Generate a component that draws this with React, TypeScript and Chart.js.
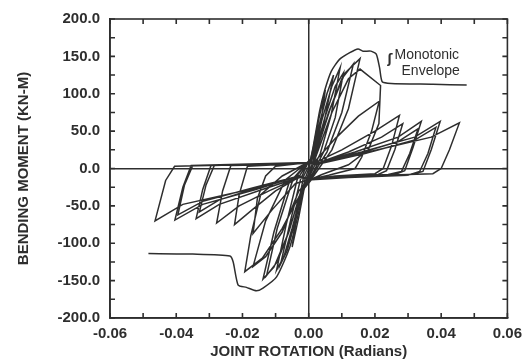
import React, { useEffect, useRef } from "react";
import { Chart, registerables } from "chart.js";

Chart.register(...registerables);

// ---------- data ----------
const xTickValues = [-0.06, -0.05, -0.04, -0.03, -0.02, -0.01, 0, 0.01, 0.02, 0.03, 0.04, 0.05, 0.06];
const xTickLabels = ["-0.06", "", "-0.04", "", "-0.02", "", "0.00", "", "0.02", "", "0.04", "", "0.06"];
const yTickValues = [-200, -175, -150, -125, -100, -75, -50, -25, 0, 25, 50, 75, 100, 125, 150, 175, 200];
const yTickLabels = ["-200.0", "", "-150.0", "", "-100.0", "", "-50.0", "", "0.0", "", "50.0", "", "100.0", "", "150.0", "", "200.0"];

type P = [number, number];

const cycle01: P[] = [[0, 0], [0.0015, 30], [0.003, 65], [0.005, 105], [0.0035, 55], [0.0015, 12], [0, -5], [-0.0015, -30], [-0.003, -65], [-0.005, -105], [-0.0035, -55], [-0.0015, -10], [0, 3]];
const cycle02: P[] = [[0.001, 12], [0.003, 55], [0.0055, 100], [0.0075, 125], [0.005, 70], [0.0025, 20], [0.0005, -5], [-0.0015, -25], [-0.004, -70], [-0.0065, -110], [-0.0085, -128], [-0.0055, -70], [-0.0025, -15], [-0.0005, 5]];
const cycle03: P[] = [[0.0015, 20], [0.004, 65], [0.007, 110], [0.0095, 135], [0.0068, 72], [0.0035, 20], [0.0005, -8], [-0.002, -30], [-0.005, -80], [-0.0075, -118], [-0.0097, -136], [-0.0068, -75], [-0.0035, -15], [-0.0005, 6]];
const cycle04: P[] = [[0.002, 22], [0.005, 70], [0.008, 110], [0.0105, 128], [0.008, 68], [0.0045, 22], [0.001, -8], [-0.002, -25], [-0.006, -85], [-0.0095, -125], [-0.0127, -143], [-0.0095, -80], [-0.005, -18], [-0.001, 5]];
const cycle05: P[] = [[0.002, 20], [0.006, 75], [0.01, 120], [0.0135, 140], [0.01, 75], [0.0055, 22], [0.001, -10], [-0.002, -28], [-0.0065, -90], [-0.0105, -132], [-0.0138, -148], [-0.0105, -85], [-0.006, -20], [-0.001, 5]];
const cycle06: P[] = [[0.002, 18], [0.0065, 80], [0.011, 128], [0.0155, 147], [0.012, 80], [0.007, 25], [0.0015, -10], [-0.003, -30], [-0.008, -85], [-0.013, -118], [-0.0168, -131], [-0.013, -70], [-0.007, -15], [-0.001, 6]];
const cycle07: P[] = [[0.0025, 20], [0.007, 75], [0.012, 120], [0.0155, 133], [0.0217, 111], [0.0212, 60], [0.018, 25], [0.012, 5], [0.004, -8], [0.001, -14], [-0.002, -30], [-0.008, -80], [-0.014, -120], [-0.0193, -138], [-0.0175, -90], [-0.0145, -35], [-0.008, -10], [-0.002, 4]];
const cycle08: P[] = [[0.002, 10], [0.008, 40], [0.015, 70], [0.0213, 90], [0.019, 50], [0.016, 15], [0.014, 0], [0.006, -9], [0.001, -14], [-0.004, -20], [-0.011, -55], [-0.0168, -87], [-0.0155, -40], [-0.013, -10], [-0.01, 3], [-0.004, 6], [0, 8]];
const cycle09: P[] = [[0.002, 8], [0.01, 25], [0.02, 50], [0.0274, 71], [0.025, 30], [0.0225, 0], [0.02, -7], [0.008, -10], [0.001, -14], [-0.003, -12], [-0.01, -30], [-0.017, -55], [-0.0224, -75], [-0.021, -35], [-0.0185, 3], [-0.01, 5], [0, 7]];
const cycle10: P[] = [[0.002, 6], [0.012, 22], [0.022, 42], [0.0284, 60], [0.026, 25], [0.0235, -3], [0.021, -8], [0.008, -11], [0.001, -15], [-0.003, -12], [-0.012, -30], [-0.021, -50], [-0.0278, -73], [-0.026, -30], [-0.0235, 4], [-0.012, 5], [0, 8]];
const cycle11: P[] = [[0.002, 6], [0.014, 22], [0.027, 42], [0.034, 63], [0.0315, 28], [0.029, -3], [0.026, -8], [0.01, -11], [0.001, -15], [-0.003, -12], [-0.014, -28], [-0.027, -48], [-0.034, -67], [-0.032, -28], [-0.0295, 4], [-0.015, 6], [0, 8]];
const cycle12: P[] = [[0.002, 5], [0.015, 20], [0.027, 36], [0.033, 53], [0.0305, 20], [0.028, -4], [0.024, -8], [0.01, -11], [0.001, -15], [-0.003, -10], [-0.015, -25], [-0.027, -42], [-0.033, -58], [-0.031, -22], [-0.0285, 4], [-0.015, 6], [0, 8]];
const cycle13: P[] = [[0.002, 6], [0.016, 22], [0.032, 42], [0.0397, 63], [0.037, 25], [0.0345, -4], [0.031, -8], [0.012, -11], [0.001, -15], [-0.003, -10], [-0.016, -28], [-0.032, -48], [-0.0404, -69], [-0.038, -25], [-0.0355, 4], [-0.018, 6], [0, 8]];
const cycle14: P[] = [[0.002, 5], [0.017, 20], [0.032, 38], [0.0384, 55], [0.036, 20], [0.0335, -4], [0.03, -9], [0.012, -12], [0.001, -15], [-0.003, -10], [-0.017, -26], [-0.032, -44], [-0.0395, -62], [-0.0375, -22], [-0.035, 4], [-0.018, 6], [0, 8]];
const cycle15: P[] = [[0.002, 6], [0.018, 22], [0.037, 42], [0.0455, 61], [0.0425, 25], [0.04, 0], [0.0375, -7], [0.015, -10], [0.001, -14], [-0.003, -10], [-0.018, -28], [-0.038, -48], [-0.0464, -70], [-0.0432, -16], [-0.0405, 3], [-0.02, 5], [0, 7]];

const envelopePositive: P[] = [[0, 0], [0.0013, 28], [0.0033, 77], [0.0048, 104], [0.0068, 130], [0.0093, 146], [0.0124, 155], [0.0149, 160], [0.0164, 157], [0.0188, 157], [0.0204, 153], [0.0214, 135], [0.0222, 116], [0.0249, 113.7], [0.0375, 112.7], [0.0477, 111.6]];
const envelopeNegative: P[] = [[0, 0], [-0.0012, -16], [-0.0027, -52], [-0.0057, -105], [-0.0097, -145], [-0.0138, -160], [-0.0158, -163.6], [-0.0188, -159], [-0.0213, -156], [-0.0228, -125], [-0.0238, -117], [-0.035, -114.5], [-0.0484, -113.8]];

const annotationLines = ["Monotonic", "Envelope"];
const annotationAnchor: P = [0.0238, 152];

// ---------- component ----------
const ink = "#2e2e2e";
const FONT = '"Liberation Sans", Arial, Helvetica, sans-serif';

const allCycles = [cycle01, cycle02, cycle03, cycle04, cycle05, cycle06, cycle07, cycle08, cycle09, cycle10, cycle11, cycle12, cycle13, cycle14, cycle15];

const toXY = (pts: P[]) => pts.map(([x, y]) => ({ x, y }));

const framePlugin = {
  id: "frameTicks",
  afterDraw(chart: any) {
    const { ctx, chartArea } = chart;
    const { left, right, top, bottom } = chartArea;
    const xs = chart.scales.x;
    const ys = chart.scales.y;
    ctx.save();
    ctx.strokeStyle = ink;
    ctx.lineWidth = 1.6;
    ctx.strokeRect(left, top, right - left, bottom - top);
    ctx.beginPath();
    const tl = 5;
    xTickValues.forEach((v) => {
      const px = xs.getPixelForValue(v);
      ctx.moveTo(px, bottom);
      ctx.lineTo(px, bottom - tl);
      ctx.moveTo(px, top);
      ctx.lineTo(px, top + tl);
    });
    yTickValues.forEach((v) => {
      const py = ys.getPixelForValue(v);
      ctx.moveTo(left, py);
      ctx.lineTo(left + tl, py);
      ctx.moveTo(right, py);
      ctx.lineTo(right - tl, py);
    });
    ctx.stroke();

    // annotation
    const ax = xs.getPixelForValue(annotationAnchor[0]);
    const ay = ys.getPixelForValue(annotationAnchor[1]);
    ctx.fillStyle = ink;
    ctx.textBaseline = "middle";
    ctx.textAlign = "left";
    ctx.font = `14px ${FONT}`;
    ctx.fillText(annotationLines[0], ax + 7, ay);
    ctx.fillText(annotationLines[1], ax + 14, ay + 16);
    ctx.font = `bold 12px "DejaVu Sans", sans-serif`;
    ctx.fillText("ʃ", ax, ay + 5);
    ctx.restore();
  },
};

export default function App() {
  const ref = useRef<HTMLCanvasElement | null>(null);

  useEffect(() => {
    if (!ref.current) return;
    Chart.defaults.font.family = FONT;
    const lineStyle = {
      showLine: true,
      borderColor: ink,
      borderWidth: 1.5,
      pointRadius: 0,
      fill: false,
      tension: 0,
    };
    const chart = new Chart(ref.current, {
      type: "scatter",
      data: {
        datasets: [
          { label: "Hysteresis", data: toXY(allCycles.flat()), ...lineStyle },
          { label: "Monotonic +", data: toXY(envelopePositive), ...lineStyle, tension: 0.2 },
          { label: "Monotonic -", data: toXY(envelopeNegative), ...lineStyle, tension: 0.2 },
        ],
      },
      options: {
        animation: false,
        responsive: false,
        layout: { padding: { top: 18, right: 21, left: 0, bottom: 0 } },
        plugins: { legend: { display: false }, tooltip: { enabled: false } },
        scales: {
          x: {
            type: "linear",
            min: -0.06,
            max: 0.06,
            afterBuildTicks: (s: any) => {
              s.ticks = xTickValues.map((v) => ({ value: v }));
            },
            afterFit: (s: any) => {
              s.height = 45;
            },
            ticks: {
              autoSkip: false,
              maxRotation: 0,
              padding: 7,
              color: ink,
              font: { size: 15, weight: "bold" },
              callback: (_v: any, i: number) => xTickLabels[i],
            },
            grid: {
              drawTicks: false,
              lineWidth: 1.5,
              color: (c: any) => (c.tick && c.tick.value === 0 ? ink : "rgba(0,0,0,0)"),
            },
            border: { display: true, color: ink, width: 1.6 },
            title: {
              display: true,
              text: "JOINT ROTATION (Radians)",
              color: ink,
              font: { size: 15, weight: "bold" },
              padding: { top: 0, bottom: 2 },
            },
          },
          y: {
            type: "linear",
            min: -200,
            max: 200,
            afterBuildTicks: (s: any) => {
              s.ticks = yTickValues.map((v) => ({ value: v }));
            },
            afterFit: (s: any) => {
              s.width = 110;
            },
            ticks: {
              autoSkip: false,
              padding: 10,
              color: ink,
              font: { size: 15, weight: "bold" },
              callback: (_v: any, i: number) => yTickLabels[i],
            },
            grid: {
              drawTicks: false,
              lineWidth: 1.5,
              color: (c: any) => (c.tick && c.tick.value === 0 ? ink : "rgba(0,0,0,0)"),
            },
            border: { display: true, color: ink, width: 1.6 },
            title: {
              display: true,
              text: "BENDING MOMENT (KN-M)",
              color: ink,
              font: { size: 15, weight: "bold" },
              padding: { top: 15, bottom: 0 },
            },
          },
        },
      },
      plugins: [framePlugin],
    });
    return () => chart.destroy();
  }, []);

  return (
    <div style={{ position: "absolute", left: 0, top: 0, width: 529, height: 363, background: "#fff" }}>
      <canvas ref={ref} width={529} height={363} style={{ display: "block" }} />
    </div>
  );
}
